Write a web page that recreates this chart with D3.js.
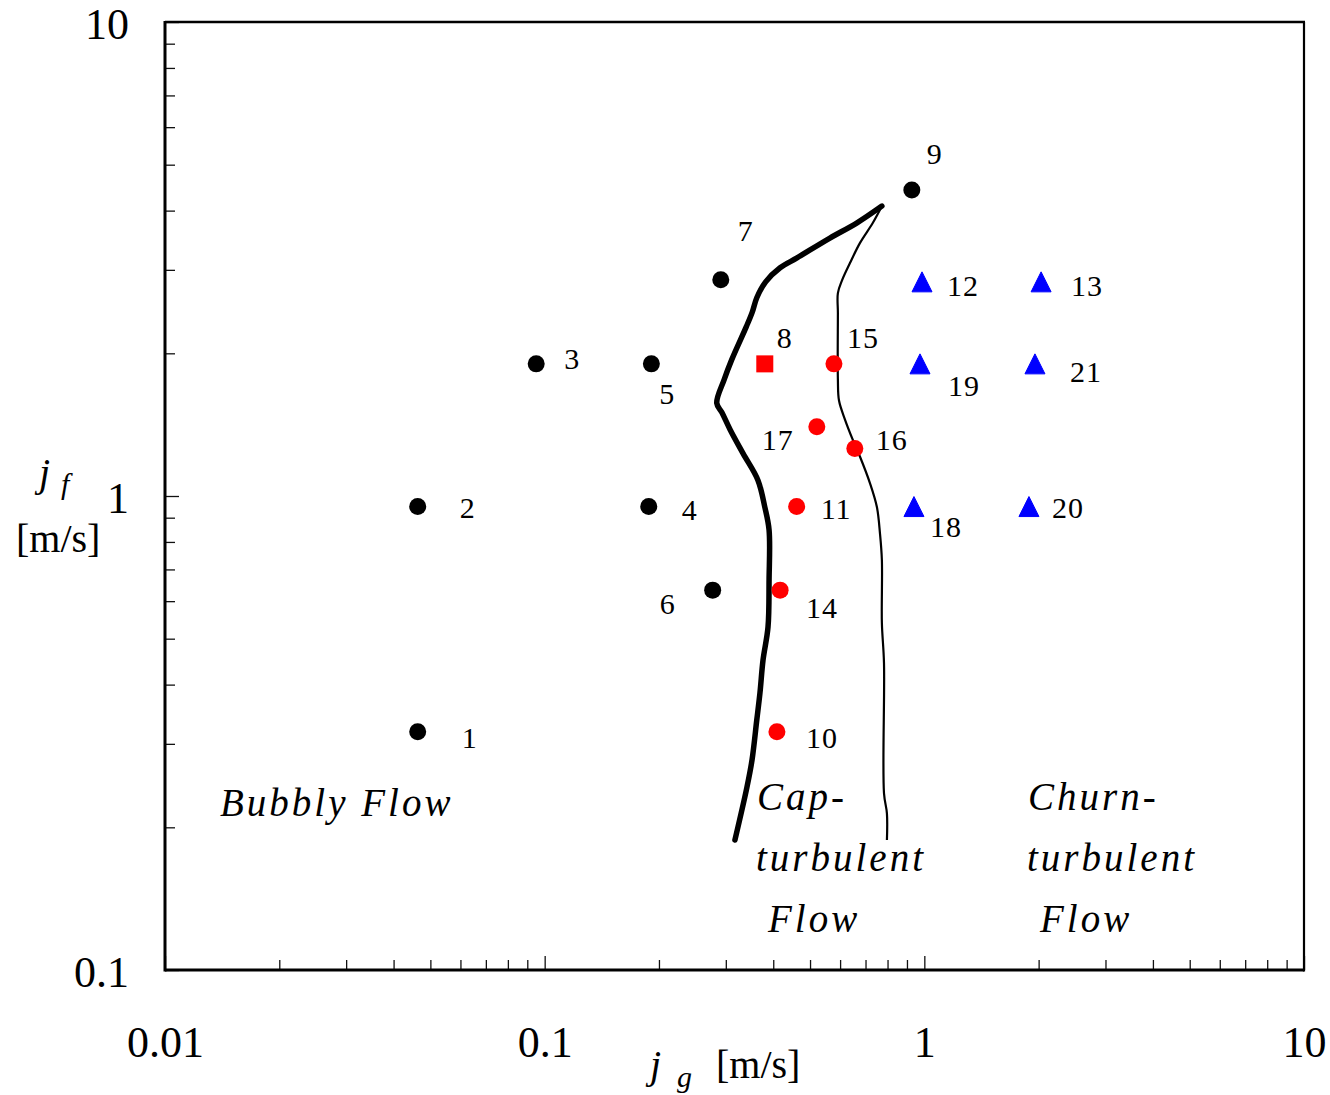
<!DOCTYPE html>
<html>
<head>
<meta charset="utf-8">
<script src="https://cdn.jsdelivr.net/npm/d3@7/dist/d3.min.js"></script>
<style>
  html, body { margin: 0; padding: 0; background: #fff; }
  svg { display: block; font-family: "Liberation Serif", "Times New Roman", serif; }
</style>
</head>
<body>
<svg id="chart" width="1330" height="1095"></svg>
<script>
// ---------------- DATA ----------------
const xTickLabels = ["0.01", "0.1", "1", "10"];
const xMajorTicks = [0.01, 0.1, 1, 10];
const yTickLabels = ["0.1", "1", "10"];
const yMajorTicks = [0.1, 1, 10];

// Bubbly flow points (black circles)
const bubblyIds = ["1", "2", "3", "4", "5", "6", "7", "9"];
const bubblyJg  = [0.0463, 0.0463, 0.095, 0.188, 0.191, 0.277, 0.291, 0.927];
const bubblyJf  = [0.318, 0.95, 1.90, 0.95, 1.90, 0.633, 2.86, 4.42];

// Point 8 (red square)
const squareIds = ["8"];
const squareJg  = [0.380];
const squareJf  = [1.90];

// Cap-turbulent points (red circles)
const capIds = ["10", "11", "14", "15", "16", "17"];
const capJg  = [0.409, 0.461, 0.417, 0.578, 0.656, 0.521];
const capJf  = [0.318, 0.95, 0.633, 1.90, 1.26, 1.40];

// Churn-turbulent points (blue triangles)
const churnIds = ["12", "13", "18", "19", "20", "21"];
const churnJg  = [0.986, 2.03, 0.939, 0.974, 1.886, 1.956];
const churnJf  = [2.83, 2.83, 0.95, 1.90, 0.95, 1.90];

// Transition boundary: bubbly / cap-turbulent (thick line)
const boundary1Jg = [0.773, 0.665, 0.564, 0.462, 0.417, 0.382, 0.362, 0.352, 0.340, 0.311, 0.297, 0.284, 0.293, 0.308, 0.333, 0.3645, 0.380, 0.390, 0.390, 0.3875, 0.376, 0.369, 0.362, 0.3516, 0.341, 0.317];
const boundary1Jf = [4.09, 3.77, 3.50, 3.18, 3.03, 2.83, 2.62, 2.44, 2.28, 1.94, 1.76, 1.57, 1.50, 1.38, 1.23, 1.08, 0.948, 0.848, 0.665, 0.529, 0.451, 0.384, 0.337, 0.277, 0.243, 0.188];

// Transition boundary: cap-turbulent / churn-turbulent (thin line)
const boundary2Jg = [0.773, 0.732, 0.677, 0.637, 0.607, 0.592, 0.592, 0.592, 0.596, 0.618, 0.649, 0.677, 0.719, 0.750, 0.764, 0.773, 0.773, 0.783, 0.783, 0.797, 0.797];
const boundary2Jf = [4.09, 3.77, 3.42, 3.10, 2.85, 2.68, 2.43, 1.76, 1.59, 1.45, 1.31, 1.21, 1.065, 0.948, 0.835, 0.733, 0.540, 0.444, 0.236, 0.214, 0.188];

// Region labels
const regionBubbly = ["Bubbly Flow"];
const regionCap    = ["Cap-", "turbulent", "Flow"];
const regionChurn  = ["Churn-", "turbulent", "Flow"];

// ---------------- LAYOUT ----------------
const plot = { left: 165, right: 1304, top: 22, bottom: 970 };
// point-label offsets (px from marker center to label start/baseline)
const labelOffsets = {
  "1": [44, 16], "2": [42, 11], "3": [28, 5], "4": [33, 13], "5": [8, 40],
  "6": [-53, 24], "7": [17, -39], "9": [15, -26], "8": [12, -16],
  "10": [29, 16], "11": [24, 12], "14": [26, 28], "15": [13, -16],
  "16": [21, 2], "17": [-55, 23], "12": [25, 14], "13": [30, 14],
  "18": [16, 30], "19": [28, 32], "20": [23, 11], "21": [35, 18]
};

const svg = d3.select("#chart");

const x = d3.scaleLog().domain([0.01, 10]).range([plot.left, plot.right]);
const y = d3.scaleLog().domain([0.1, 10]).range([plot.bottom, plot.top]);

function minorTicks(lo, hi) {
  const out = [];
  for (let d = lo; d < hi; d *= 10) {
    for (let k = 2; k <= 9; k++) out.push(+(k * d).toPrecision(3));
  }
  return out;
}

// ---------------- AXES ----------------
const gx = svg.append("g").attr("transform", `translate(0,${plot.bottom})`);
gx.append("g").call(d3.axisBottom(x).tickValues(minorTicks(0.01, 10)).tickSize(-10).tickFormat(""));
gx.append("g").call(d3.axisBottom(x).tickValues(xMajorTicks).tickSize(-14)
    .tickFormat((d, i) => xTickLabels[i]));
gx.selectAll(".domain").remove();
gx.selectAll("line").attr("stroke", "#111").attr("stroke-width", 1.3);
gx.selectAll("text")
  .attr("y", 87).attr("dy", 0)
  .attr("font-size", 44).attr("font-family", "Liberation Serif, serif").attr("fill", "#000");

const gy = svg.append("g").attr("transform", `translate(${plot.left},0)`);
gy.append("g").call(d3.axisLeft(y).tickValues(minorTicks(0.1, 10)).tickSize(-10).tickFormat(""));
gy.append("g").call(d3.axisLeft(y).tickValues(yMajorTicks).tickSize(-14)
    .tickFormat((d, i) => yTickLabels[i]));
gy.selectAll(".domain").remove();
gy.selectAll("line").attr("stroke", "#111").attr("stroke-width", 1.3);
gy.selectAll("text")
  .attr("x", -36).attr("dy", "0.37em")
  .attr("font-size", 44).attr("font-family", "Liberation Serif, serif").attr("fill", "#000");

// frame
const frame = svg.append("g").attr("stroke", "#000").attr("fill", "none");
frame.append("line").attr("x1", plot.left).attr("x2", plot.left).attr("y1", plot.top - 1).attr("y2", plot.bottom + 1.5).attr("stroke-width", 3);
frame.append("line").attr("x1", plot.left).attr("x2", plot.right).attr("y1", plot.bottom).attr("y2", plot.bottom).attr("stroke-width", 3);
frame.append("line").attr("x1", plot.left).attr("x2", plot.right + 1).attr("y1", plot.top).attr("y2", plot.top).attr("stroke-width", 2.5);
frame.append("line").attr("x1", plot.right).attr("x2", plot.right).attr("y1", plot.top).attr("y2", plot.bottom + 1.5).attr("stroke-width", 2.2);

// ---------------- BOUNDARY CURVES ----------------
const line = d3.line().x(d => x(d[0])).y(d => y(d[1])).curve(d3.curveCatmullRom.alpha(0.5));
svg.append("path")
  .datum(boundary2Jg.map((v, i) => [v, boundary2Jf[i]]))
  .attr("d", line).attr("fill", "none").attr("stroke", "#000").attr("stroke-width", 2.2);
svg.append("path")
  .datum(boundary1Jg.map((v, i) => [v, boundary1Jf[i]]))
  .attr("d", line).attr("fill", "none").attr("stroke", "#000").attr("stroke-width", 5.5)
  .attr("stroke-linecap", "round").attr("stroke-linejoin", "round");

// ---------------- MARKERS ----------------
function pts(ids, jg, jf) { return ids.map((id, i) => ({ id, jg: jg[i], jf: jf[i] })); }
const bubbly = pts(bubblyIds, bubblyJg, bubblyJf);
const square = pts(squareIds, squareJg, squareJf);
const cap    = pts(capIds, capJg, capJf);
const churn  = pts(churnIds, churnJg, churnJf);

svg.append("g").selectAll("circle").data(bubbly).join("circle")
  .attr("cx", d => x(d.jg)).attr("cy", d => y(d.jf)).attr("r", 8.5).attr("fill", "#000");
svg.append("g").selectAll("circle").data(cap).join("circle")
  .attr("cx", d => x(d.jg)).attr("cy", d => y(d.jf)).attr("r", 8.5).attr("fill", "#ff0000");
svg.append("g").selectAll("rect").data(square).join("rect")
  .attr("x", d => x(d.jg) - 8.5).attr("y", d => y(d.jf) - 8.5)
  .attr("width", 17).attr("height", 17).attr("fill", "#ff0000");
svg.append("g").selectAll("path").data(churn).join("path")
  .attr("transform", d => `translate(${x(d.jg)},${y(d.jf)})`)
  .attr("d", "M0,-10 L10,10 L-10,10 Z").attr("fill", "#0000ff")
  .attr("stroke", "#0000ff").attr("stroke-width", 1).attr("stroke-linejoin", "round");

// ---------------- POINT LABELS ----------------
const allPts = bubbly.concat(square, cap, churn);
svg.append("g").selectAll("text").data(allPts).join("text")
  .attr("x", d => x(d.jg) + labelOffsets[d.id][0])
  .attr("y", d => y(d.jf) + labelOffsets[d.id][1])
  .attr("font-family", "Liberation Serif, serif")
  .attr("font-size", 30).attr("letter-spacing", 1).attr("fill", "#000")
  .text(d => d.id);

// ---------------- REGION LABELS ----------------
function region(lines, xs, ys) {
  const g = svg.append("g").attr("font-family", "Liberation Serif, serif")
    .attr("font-style", "italic").attr("font-size", 39)
    .attr("letter-spacing", 3).attr("fill", "#000");
  lines.forEach((t, i) => g.append("text").attr("x", xs[i]).attr("y", ys[i]).text(t));
}
region(regionBubbly, [220], [816]);
region(regionCap, [757, 756, 768], [810, 871, 932]);
region(regionChurn, [1028, 1027, 1040], [810, 871, 932]);

// ---------------- AXIS TITLES ----------------
const xt = svg.append("g").attr("fill", "#000").attr("font-family", "Liberation Serif, serif");
xt.append("text").attr("x", 650).attr("y", 1078).attr("font-size", 40).attr("font-style", "italic").text("j");
xt.append("text").attr("x", 677).attr("y", 1087).attr("font-size", 30).attr("font-style", "italic").text("g");
xt.append("text").attr("x", 716).attr("y", 1078).attr("font-size", 40).text("[m/s]");

const yt = svg.append("g").attr("fill", "#000").attr("font-family", "Liberation Serif, serif");
yt.append("text").attr("x", 39).attr("y", 486).attr("font-size", 40).attr("font-style", "italic").text("j");
yt.append("text").attr("x", 61).attr("y", 494).attr("font-size", 30).attr("font-style", "italic").text("f");
yt.append("text").attr("x", 16).attr("y", 552).attr("font-size", 40).text("[m/s]");
</script>
</body>
</html>
